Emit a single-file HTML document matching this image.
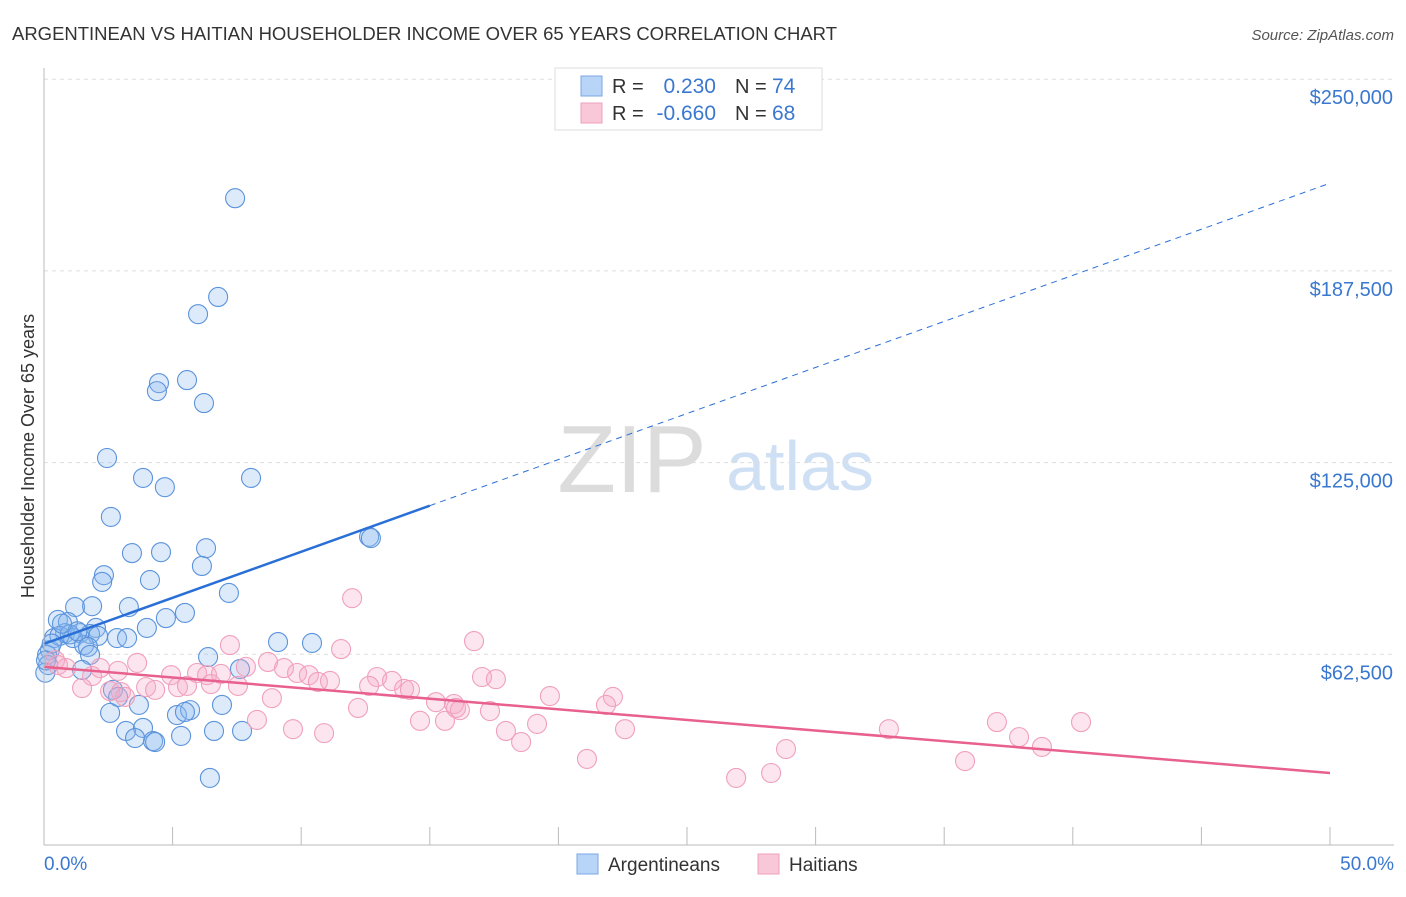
<!DOCTYPE html>
<html><head><meta charset="utf-8"><style>
body{margin:0;background:#fff;font-family:"Liberation Sans",sans-serif;}
svg text{font-family:"Liberation Sans",sans-serif;}
</style></head><body>
<svg id="chart" width="1406" height="892">
<text x="12" y="40" font-size="18" fill="#333" textLength="825" lengthAdjust="spacingAndGlyphs">ARGENTINEAN VS HAITIAN HOUSEHOLDER INCOME OVER 65 YEARS CORRELATION CHART</text>
<text x="1394" y="40" font-size="15" fill="#555" font-style="italic" text-anchor="end">Source: ZipAtlas.com</text>
<text x="34" y="456" font-size="18" fill="#333" text-anchor="middle" transform="rotate(-90 34 456)">Householder Income Over 65 years</text>
<text x="632" y="492" font-size="96" fill="#dcdcdc" font-family="Liberation Serif" text-anchor="middle">ZIP</text>
<text x="800" y="490" font-size="70" fill="#cfe0f4" text-anchor="middle">atlas</text>
<g id="grid"></g><g id="ticks"></g><g id="pts"></g><g id="lines"></g>
<line x1="44" y1="68" x2="44" y2="845" stroke="#bbb"/>
<line x1="44" y1="845" x2="1394" y2="845" stroke="#bbb"/>
<text x="44" y="870" font-size="19" fill="#3a78d0">0.0%</text>
<text x="1394" y="870" font-size="19" fill="#3a78d0" text-anchor="end">50.0%</text>
<g>
<rect x="555" y="68" width="267" height="62" fill="#fff" stroke="#ddd"/>
<rect x="581" y="76" width="21" height="20" fill="#b8d4f6" stroke="#7aa8e4"/>
<rect x="581" y="103" width="21" height="20" fill="#f8c8d8" stroke="#eea0bc"/>
<text x="612" y="93" font-size="20" fill="#333">R =</text><text x="716" y="93" font-size="21" fill="#3a78d0" text-anchor="end">0.230</text>
<text x="735" y="93" font-size="20" fill="#333">N =</text><text x="772" y="93" font-size="21" fill="#3a78d0">74</text>
<text x="612" y="120" font-size="20" fill="#333">R =</text><text x="716" y="120" font-size="21" fill="#3a78d0" text-anchor="end">-0.660</text>
<text x="735" y="120" font-size="20" fill="#333">N =</text><text x="772" y="120" font-size="21" fill="#3a78d0">68</text>
</g>
<g>
<rect x="577" y="854" width="21" height="20" fill="#b8d4f6" stroke="#7aa8e4"/>
<text x="608" y="871" font-size="19" fill="#333">Argentineans</text>
<rect x="758" y="854" width="21" height="20" fill="#f8c8d8" stroke="#eea0bc"/>
<text x="789" y="871" font-size="19" fill="#333">Haitians</text>
</g>
</svg>
<script>
const yTicks=[62500,125000,187500,250000];
const yTickLabels=["$62,500","$125,000","$187,500","$250,000"];
const xTicks=[0,5,10,15,20,25,30,35,40,45,50];
const blueX=[7.43,6.77,5.99,5.56,4.47,4.39,6.22,2.45,3.85,8.05,4.70,2.60,12.64,12.71,6.30,3.42,4.55,6.14,2.33,2.26,4.12,7.19,1.21,1.87,3.30,5.48,4.74,0.54,0.93,4.00,2.02,0.82,1.40,1.79,2.10,0.39,1.13,2.84,3.23,9.10,10.42,1.56,1.71,0.23,1.79,6.38,7.62,1.48,0.12,0.16,2.68,2.88,3.69,6.92,2.57,5.17,5.68,5.48,3.19,3.85,5.33,6.61,7.70,3.54,4.24,4.32,6.45,0.05,0.08,0.6,1.0,1.3,0.3,0.7];
const blueY=[211.2,179.0,173.4,151.9,150.9,148.3,144.4,126.5,120.0,120.0,117.0,107.3,100.8,100.4,97.1,95.5,95.8,91.3,88.3,86.1,86.7,82.5,77.9,78.2,77.9,76.0,74.3,73.7,73.0,71.1,71.1,69.4,69.4,69.1,68.5,67.8,67.8,67.8,67.8,66.5,66.2,65.5,64.9,63.9,62.3,61.6,57.7,57.4,62.3,59.0,50.9,48.6,46.0,46.0,43.4,42.7,44.3,43.7,37.5,38.5,35.9,37.5,37.5,35.2,34.2,33.9,22.2,56.5,60.5,68.5,69.0,70.0,66.0,72.5];
const pinkX=[11.98,16.72,11.55,7.23,0.43,3.62,8.71,2.18,2.88,0.86,0.54,1.87,4.94,5.95,6.34,6.88,7.85,9.33,9.84,10.30,10.65,11.12,12.95,13.53,14.00,14.23,12.64,17.03,17.57,3.97,4.32,5.21,5.56,6.49,7.54,1.48,2.57,2.99,8.86,12.21,15.24,15.94,16.02,16.17,19.67,22.12,21.85,17.34,8.28,14.62,15.59,9.68,10.89,17.96,19.17,22.59,18.55,32.85,37.05,40.32,37.91,38.80,28.85,21.11,35.81,26.91,28.27,3.15];
const pinkY=[80.8,66.8,64.2,65.5,60.6,59.7,60.0,58.0,57.1,58.0,59.0,55.4,55.7,56.4,55.7,56.1,58.4,58.0,56.4,55.7,53.5,53.8,55.1,53.8,51.2,50.9,52.2,55.1,54.4,51.8,50.9,51.8,52.2,52.8,52.2,51.5,50.5,50.2,48.2,45.0,46.9,46.3,45.0,44.3,48.9,48.6,46.0,44.0,41.1,40.8,40.8,38.1,36.8,37.5,39.8,38.1,33.9,38.1,40.4,40.4,35.5,32.3,31.6,28.4,27.7,22.2,23.8,48.6];
const blueTrend=[65.9,216.1]; // k$ at 0% and 50%
const pinkTrend=[58.4,23.8];
const NS="http://www.w3.org/2000/svg";
function xS(v){return 44+v/50*1286;}
function yS(v){return 846-v/62500*191.7;}
function mk(tag,attrs,parent){const e=document.createElementNS(NS,tag);for(const k in attrs)e.setAttribute(k,attrs[k]);parent.appendChild(e);return e;}
const grid=document.getElementById('grid');
yTicks.forEach((t,i)=>{
 const l=mk('line',{x1:44,x2:1394,y1:yS(t),y2:yS(t),stroke:'#ddd','stroke-dasharray':'4,4'},grid);
 
 
 const tx=mk('text',{x:1393,y:yS(t)+25,'font-size':20,fill:'#3a78d0','text-anchor':'end'},grid);
 tx.textContent=yTickLabels[i];
 
 
});
const ticks=document.getElementById('ticks');
xTicks.forEach(t=>{
 const l=mk('line',{x1:xS(t),x2:xS(t),y1:827,y2:845,stroke:'#bbb'},ticks);
 
 
});
const pts=document.getElementById('pts');
blueX.forEach((x,i)=>{
 const c=mk('circle',{cx:xS(x),cy:yS(blueY[i]*1000),r:9.5,fill:'rgba(140,185,240,0.3)',stroke:'#5b93dc','stroke-width':1.1},pts);
 
 
});
pinkX.forEach((x,i)=>{
 const c=mk('circle',{cx:xS(x),cy:yS(pinkY[i]*1000),r:9.5,fill:'rgba(245,170,198,0.3)',stroke:'#f0a0bc','stroke-width':1.1},pts);
 
 
});
const lines=document.getElementById('lines');
function bAt(x){return blueTrend[0]+(blueTrend[1]-blueTrend[0])*x/50;}
let l1=mk('line',{x1:xS(0),y1:yS(bAt(0)*1000),x2:xS(15),y2:yS(bAt(15)*1000),stroke:'#2a6fd6','stroke-width':2.5},lines);


let l2=mk('line',{x1:xS(15),y1:yS(bAt(15)*1000),x2:xS(50),y2:yS(bAt(50)*1000),stroke:'#2a6fd6','stroke-width':1,'stroke-dasharray':'6,5'},lines);


let l3=mk('line',{x1:xS(0),y1:yS(pinkTrend[0]*1000),x2:xS(50),y2:yS(pinkTrend[1]*1000),stroke:'#e8608e','stroke-width':2.5},lines);


</script>
</body></html>
